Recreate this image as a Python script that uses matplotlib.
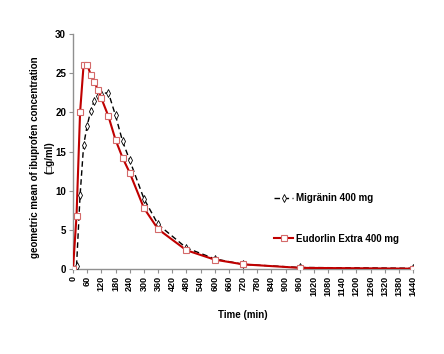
import matplotlib
matplotlib.use("Agg")
import matplotlib.pyplot as plt

time_eud = [0, 15, 30, 45, 60, 75, 90, 105, 120, 150, 180, 210, 240, 300, 360, 480, 600, 720, 960, 1440]
conc_eud = [0.0, 6.8, 20.0, 26.1, 26.1, 24.8, 23.9, 22.9, 21.8, 19.5, 16.5, 14.2, 12.3, 7.8, 5.1, 2.4, 1.2, 0.6, 0.15, 0.05]
time_mig = [15, 30, 45, 60, 75, 90, 105, 120, 150, 180, 210, 240, 300, 360, 480, 600, 720, 960, 1440]
conc_mig = [0.4, 9.4, 15.8, 18.3, 20.2, 21.5, 22.1, 22.4, 22.5, 19.6, 16.3, 13.9, 9.0, 5.7, 2.7, 1.3, 0.6, 0.2, 0.1]
xticks = list(range(0, 1441, 60))
yticks = [0, 5, 10, 15, 20, 25, 30]

plt.rcParams['font.family'] = ['Liberation Sans', 'DejaVu Sans']
plt.rcParams['font.weight'] = 'bold'

fig = plt.figure(figsize=(4.44, 3.54), dpi=100)
ax = fig.add_axes([0.1644, 0.240, 0.766, 0.664])

ax.plot(time_mig, conc_mig, color='black', linestyle=(0, (4, 2.5)), linewidth=1.0,
        marker='d', markersize=4, markerfacecolor='white', markeredgecolor='black',
        markeredgewidth=0.6, label='Migränin 400 mg', zorder=3)
ax.plot(time_eud, conc_eud, color='#c00000', linewidth=1.5,
        marker='s', markersize=4, markerfacecolor='white', markeredgecolor='#d46a6a',
        markeredgewidth=0.8, label='Eudorlin Extra 400 mg', zorder=4)

ax.set_xlim(0, 1440)
ax.set_ylim(0, 30)
ax.set_xticks(xticks)
ax.set_xticklabels([str(t) for t in xticks], rotation=90, fontsize=6.5, fontweight='bold')
ax.set_yticks(yticks)
ax.set_yticklabels([str(v) for v in yticks], fontsize=7, fontweight='bold')
for s in ['top', 'right']:
    ax.spines[s].set_visible(False)
for s in ['left', 'bottom']:
    ax.spines[s].set_color('#909090')
    ax.spines[s].set_linewidth(1.0)
ax.tick_params(axis='both', colors='#909090', labelcolor='black', length=3, width=0.8, pad=2)

ax.set_xlabel('Time (min)', fontsize=7, fontweight='bold', labelpad=10)
ax.set_ylabel('geometric mean of ibuprofen concentration\n(\u25a1g/ml)', fontsize=7,
              fontweight='bold', labelpad=2, linespacing=1.6)
ax.yaxis.set_label_coords(-0.053, 0.475)

ax.legend(loc='upper left', bbox_to_anchor=(0.565, 0.36), frameon=False, fontsize=7,
          handlelength=2.0, handletextpad=0.3, labelspacing=3.15,
          prop={'weight': 'bold', 'size': 7})

fig.savefig('out.png', dpi=100, facecolor='white')
